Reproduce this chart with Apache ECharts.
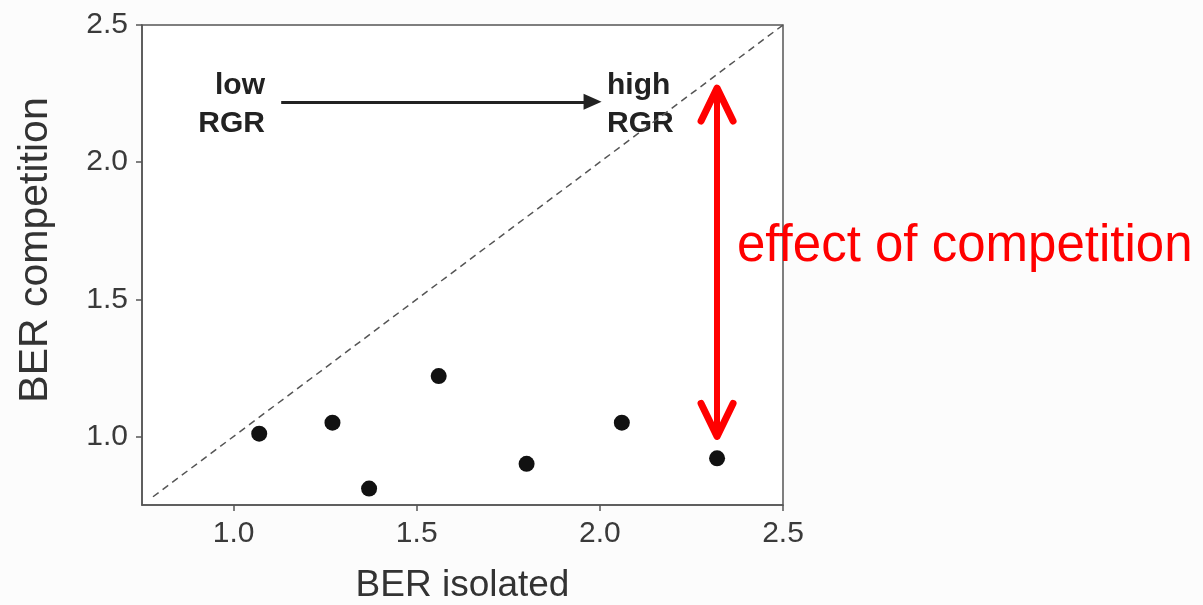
<!DOCTYPE html>
<html>
<head>
<meta charset="utf-8">
<script src="https://cdn.jsdelivr.net/npm/echarts@6/dist/echarts.min.js"></script>
<style>
  html, body { margin: 0; padding: 0; background: #fcfcfc; }
  #chart { width: 1203px; height: 605px; }
</style>
</head>
<body>
<div id="chart"></div>
<script>
// Species: biomass enhancement ratio grown alone vs. in competition
const berIsolated    = [1.07, 1.27, 1.37, 1.56, 1.80, 2.06, 2.32];
const berCompetition = [1.01, 1.05, 0.81, 1.22, 0.90, 1.05, 0.92];
const tickValues = [1.0, 1.5, 2.0, 2.5];
const axisMin = 0.75, axisMax = 2.5;

// 1:1 reference line
const identityLine = [[0.78, 0.78], [2.5, 2.5]];
// RGR gradient arrow and competition-effect arrow (data coordinates)
const rgrArrow = [[1.13, 2.22], [1.98, 2.22]];
const effectArrow = [[2.32, 1.0], [2.32, 2.27]];

const font = 'Liberation Sans, Arial, sans-serif';
const axisColor = '#555';

const points = berIsolated.map((x, i) => [x, berCompetition[i]]);

function valueAxis(name, extra) {
  return Object.assign({
    type: 'value',
    min: axisMin,
    max: axisMax,
    name: name,
    nameLocation: 'middle',
    nameTextStyle: { fontFamily: font, fontSize: 37, color: '#333' },
    axisLine: { show: true, lineStyle: { color: axisColor, width: 1.5 } },
    axisTick: { show: true, length: 6, customValues: tickValues, lineStyle: { color: axisColor, width: 1.5 } },
    axisLabel: {
      customValues: tickValues,
      fontFamily: font, fontSize: 30, color: '#3a3a3a', margin: 14,
      formatter: v => v.toFixed(1)
    },
    splitLine: { show: false }
  }, extra);
}

const textStyleBold = { fontFamily: font, fontSize: 30, fontWeight: 'bold', fill: '#222', lineHeight: 38 };

const chart = echarts.init(document.getElementById('chart'));
chart.setOption({
  backgroundColor: '#fcfcfc',
  animation: false,
  grid: {
    left: 142, right: 420, top: 25, bottom: 100,
    outerBoundsMode: 'none',
    show: true, backgroundColor: '#ffffff',
    borderColor: axisColor, borderWidth: 1.5
  },
  xAxis: valueAxis('BER isolated', { nameGap: 62 }),
  yAxis: valueAxis('BER competition', {
    nameGap: 86,
    nameTextStyle: { fontFamily: font, fontSize: 41, color: '#333', padding: [0, 0, 0, 30] }
  }),
  series: [
    {
      type: 'line',
      data: identityLine,
      symbol: 'none',
      lineStyle: { color: '#555', width: 1.5, type: [7, 5] },
      silent: true
    },
    {
      type: 'scatter',
      data: points,
      symbolSize: 16,
      itemStyle: { color: '#111', opacity: 1 },
      markLine: {
        silent: true,
        label: { show: false },
        data: [
          [
            { coord: rgrArrow[0], symbol: 'none' },
            { coord: rgrArrow[1], symbol: 'triangle', symbolSize: [16, 18], symbolRotate: -90,
              lineStyle: { color: '#222', width: 3, type: 'solid' } }
          ],
          [
            { coord: effectArrow[0], symbol: 'none' },
            { coord: effectArrow[1], symbol: 'none',
              lineStyle: { color: '#ff0000', width: 6, type: 'solid' } }
          ]
        ]
      }
    }
  ]
});

// Text annotations and chevron heads of the red double-headed arrow
const headTopPt = chart.convertToPixel({ gridIndex: 0 }, effectArrow[1]);
const headBotPt = chart.convertToPixel({ gridIndex: 0 }, effectArrow[0]);
const headW = 16, headH = 33;
const chevron = { stroke: '#ff0000', lineWidth: 7, lineCap: 'round', lineJoin: 'round', fill: null };
chart.setOption({
  graphic: [
    {
      id: 'lowRGR', type: 'text', x: 265, y: 67,
      style: Object.assign({ text: 'low\nRGR', align: 'right' }, textStyleBold)
    },
    {
      id: 'highRGR', type: 'text', x: 607, y: 67,
      style: Object.assign({ text: 'high\nRGR', align: 'left' }, textStyleBold)
    },
    {
      id: 'effectLabel', type: 'text', x: 737, y: 221,
      style: { text: 'effect of competition', fontFamily: font, fontSize: 51, fill: '#ff0000' }
    },
    {
      id: 'headTop', type: 'polyline',
      shape: { points: [[headTopPt[0] - headW, headTopPt[1] + headH], headTopPt, [headTopPt[0] + headW, headTopPt[1] + headH]] },
      style: chevron
    },
    {
      id: 'headBottom', type: 'polyline',
      shape: { points: [[headBotPt[0] - headW, headBotPt[1] - headH], headBotPt, [headBotPt[0] + headW, headBotPt[1] - headH]] },
      style: chevron
    }
  ]
});
</script>
</body>
</html>
